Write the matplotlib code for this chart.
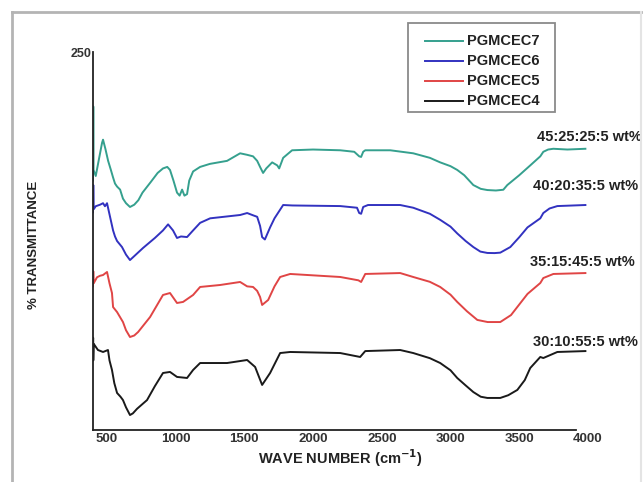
import matplotlib
matplotlib.use("Agg")
import matplotlib.pyplot as plt
from matplotlib.lines import Line2D
from matplotlib.patches import Rectangle

plt.rcParams['font.family'] = ['Liberation Sans', 'DejaVu Sans']

# FTIR spectra (wavenumber in cm^-1, offset transmittance)
wn_c7 = [400, 402, 404, 420, 445, 466, 473, 490, 510, 530, 546, 560, 575, 597, 618, 640, 669,
         700, 730, 760, 820, 870, 909, 940, 960, 985, 1011, 1030, 1048, 1065, 1084, 1100, 1128,
         1179, 1250, 1375, 1470, 1521, 1564, 1594, 1615, 1637, 1660, 1703, 1740, 1754, 1783,
         1848, 2000, 2198, 2300, 2336, 2350, 2365, 2380, 2562, 2729, 2850, 2925, 3000, 3049,
         3100, 3166, 3220, 3268, 3330, 3384, 3413, 3500, 3580, 3653, 3675, 3710, 3748, 3850,
         3981]
t_c7 = [165, 214, 172, 168, 180, 190, 192, 186, 178, 172, 167, 163, 161, 159, 153, 150, 147.5,
        149, 152, 157, 164, 170, 173, 174, 172, 165, 157, 155, 159, 155, 156, 165, 171,
        174, 176, 178, 183, 182, 181, 178, 174, 170, 173, 177, 175, 173, 180,
        185, 185.5, 185, 184, 181, 180.6, 184, 185, 185, 183, 180, 177, 174.5, 172,
        168.5, 162, 159.5, 158.7, 158.4, 158.9, 162, 168.5, 175, 181, 184, 185.5, 186, 185.5,
        186]

wn_c6 = [400, 402, 405, 420, 451, 473, 487, 502, 524, 546, 560, 575, 611, 640, 669, 700, 764,
         850, 909, 946, 982, 1011, 1040, 1084, 1128, 1179, 1252, 1470, 1521, 1564, 1594, 1615,
         1630, 1650, 1688, 1720, 1783, 1850, 2198, 2320, 2336, 2350, 2365, 2400, 2634, 2729,
         2850, 2925, 3000, 3049, 3110, 3166, 3217, 3268, 3320, 3362, 3435, 3500, 3560, 3653,
         3675, 3720, 3777, 3981]
t_c6 = [144, 162, 146, 148, 149, 150, 148, 150, 141, 132, 128, 125, 121, 116, 112.4, 115, 120.4,
        127, 132, 136, 132, 127, 128, 127.6, 132, 137, 140, 142.2, 143.5, 142, 141, 135,
        127.6, 126, 134, 140, 148.8, 148.5, 148.1, 147, 143.5, 143, 147.5, 148.8, 148.8, 147,
        143, 139, 134.5, 130, 125, 121, 118, 117.1, 117, 117.3, 121, 127.5, 134, 140,
        143.5, 146.5, 148.1, 148.8]

wn_c5 = [400, 402, 405, 429, 451, 473, 502, 520, 538, 546, 575, 618, 640, 669, 700, 728, 815,
         909, 960, 1011, 1055, 1128, 1179, 1324, 1470, 1521, 1564, 1594, 1615, 1630, 1674,
         1720, 1761, 1834, 2198, 2330, 2350, 2380, 2634, 2729, 2850, 2925, 3000, 3049, 3120,
         3195, 3270, 3362, 3440, 3500, 3560, 3653, 3675, 3748, 3981]
t_c5 = [95, 105, 97, 101, 102, 102.5, 104.5, 97, 90.6, 81.3, 78, 71.4, 66, 61.5, 62.5, 64.8, 74.7,
        89.3, 90.6, 84, 84.7, 89.3, 94.6, 95.9, 97.9, 95, 94.6, 92, 88, 82.7, 86,
        95, 101.2, 103.2, 101.2, 99, 97.9, 103.2, 103.8, 101.2, 98, 94.6, 89.5, 84.7, 78.5,
        72.8, 71.4, 71.4, 76, 83, 90, 97.2, 100.5, 103.2, 103.8]

wn_c4 = [400, 401, 402, 405, 436, 473, 509, 520, 538, 555, 575, 600, 618, 640, 669, 690, 720,
         793, 850, 909, 960, 1011, 1084, 1128, 1179, 1375, 1521, 1579, 1630, 1688, 1761,
         1834, 2198, 2343, 2380, 2634, 2729, 2850, 2925, 3000, 3049, 3110, 3166, 3220, 3268,
         3362, 3420, 3486, 3540, 3580, 3653, 3675, 3777, 3981]
t_c4 = [55, 61, 46, 57, 52.9, 51.6, 52.9, 46, 39.7, 31, 24.5, 22, 19.8, 15, 9.9, 11, 14,
        19.8, 29, 37.7, 38.4, 35.1, 34.4, 39.7, 44.3, 44.3, 46.3, 41.7, 29.8, 37.7, 50.9,
        51.6, 50.9, 48.3, 52.2, 52.9, 50.9, 47.5, 44.3, 39.5, 34.4, 29.5, 25.1, 22, 21.2,
        21.2, 23, 26.5, 33, 41, 48.3, 47.6, 51.6, 52.2]

series_names = ["PGMCEC7", "PGMCEC6", "PGMCEC5", "PGMCEC4"]
series_colors = ["#35a08e", "#3232c0", "#e04545", "#1a1a1a"]
compositions = ["45:25:25:5 wt%", "40:20:35:5 wt%", "35:15:45:5 wt%", "30:10:55:5 wt%"]
label_pos = [(3631, 193.8), (3602, 161.4), (3580, 111.0), (3602, 58.2)]
x_ticks = [500, 1000, 1500, 2000, 2500, 3000, 3500, 4000]

W, H = 644, 482
fig = plt.figure(figsize=(W / 100, H / 100), dpi=100)
fig.patch.set_facecolor("white")


def fx(px):
    return px / W


def fy(py):
    return 1 - py / H


# page frame around the figure
frame_kw = dict(color="#b4b4b4", lw=2.0, transform=fig.transFigure)
fig.add_artist(Line2D([fx(12), fx(641)], [fy(12), fy(12)], **frame_kw))
fig.add_artist(Line2D([fx(12), fx(12)], [0, fy(12)], **frame_kw))
fig.add_artist(Line2D([fx(641), fx(641)], [0, fy(12)], color="#e4e4e4", lw=1.5,
                      transform=fig.transFigure))

ax = fig.add_axes([fx(93), fy(430), (588 - 93) / W, (430 - 52) / H])
for wn, t, c in zip([wn_c7, wn_c6, wn_c5, wn_c4], [t_c7, t_c6, t_c5, t_c4], series_colors):
    ax.plot(wn, t, color=c, lw=1.4, solid_joinstyle="round")

ax.set_xlim(400, 4000)
ax.set_ylim(0, 250)
for s in ("top", "right"):
    ax.spines[s].set_visible(False)
for s in ("left", "bottom"):
    ax.spines[s].set_linewidth(1.3)
    ax.spines[s].set_color("#222222")
ax.spines["bottom"].set_bounds(400, 3910)

ax.set_xticks(x_ticks)
ax.set_xticklabels([str(v) for v in x_ticks], fontsize=9.5, fontweight="bold", color="#333333")
ax.set_yticks([250])
ax.set_yticklabels(["250"], fontsize=9, fontweight="bold", color="#333333")
ax.tick_params(axis="both", length=0)
ax.tick_params(axis="x", pad=2)
ax.tick_params(axis="y", pad=1)

ax.set_xlabel("WAVE NUMBER (cm$^{\\mathbf{-1}}$)", fontsize=10.5, fontweight="bold",
              color="#222222", labelpad=2)
ax.set_ylabel("% TRANSMITTANCE", fontsize=9.5, fontweight="bold", color="#222222")
ax.yaxis.set_label_coords(-(93 - 40) / (588 - 93), (430 - 245) / (430 - 52))

for txt, (x, y) in zip(compositions, label_pos):
    ax.text(x, y, txt, fontsize=10.5, fontweight="bold", color="#222222",
            va="center", ha="left", clip_on=False)

# legend box
fig.add_artist(Rectangle((fx(408), fy(112)), (555 - 408) / W, (112 - 23) / H,
                         transform=fig.transFigure, fill=False, edgecolor="#8a8a8a", lw=1.3))
for i, (n, c) in enumerate(zip(series_names, series_colors)):
    yy = fy(41 + 20 * i)
    fig.add_artist(Line2D([fx(425), fx(463)], [yy, yy], color=c, lw=1.4,
                          transform=fig.transFigure))
    fig.text(fx(467), yy, n, fontsize=10.5, fontweight="bold", color="#222222",
             va="center", ha="left")

fig.savefig("out.png", dpi=100, facecolor="white")
